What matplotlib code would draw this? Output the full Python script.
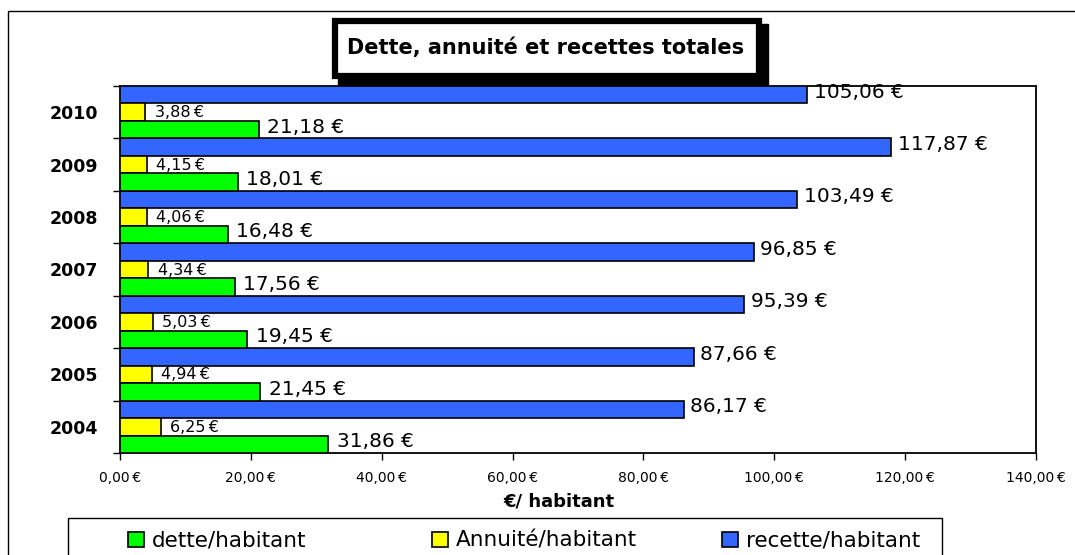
import matplotlib
matplotlib.use("Agg")
import matplotlib.pyplot as plt
from matplotlib.patches import Rectangle
import numpy as np

plt.rcParams['font.family'] = ['DejaVu Sans']

years = ["2004", "2005", "2006", "2007", "2008", "2009", "2010"]
recette = [86.17, 87.66, 95.39, 96.85, 103.49, 117.87, 105.06]
annuite = [6.25, 4.94, 5.03, 4.34, 4.06, 4.15, 3.88]
dette = [31.86, 21.45, 19.45, 17.56, 16.48, 18.01, 21.18]
xticks = [0, 20, 40, 60, 80, 100, 120, 140]
series_names = ["dette/habitant", "Annuité/habitant", "recette/habitant"]
c_det, c_ann, c_rec = '#00FF00', '#FFFF00', '#3366FF'

def eur(v, sep=" "):
    return ("%.2f" % v).replace(".", ",") + sep + "€"

W, H = 1075, 555
fig = plt.figure(figsize=(W / 100, H / 100), dpi=100)

def px(x, y):
    # pixel coords (from top-left) -> figure fraction
    return x / W, 1 - y / H

# outer chart frame (runs off the right and bottom edges)
fig.patches.append(Rectangle(px(8, 600), 1.2, (600 - 11) / H, transform=fig.transFigure,
                             fill=False, edgecolor='black', linewidth=1.0))

ax = fig.add_axes([120 / W, 1 - 453 / H, (1036 - 120) / W, (453 - 86) / H])
y = np.arange(len(years))
h = 1 / 3

ax.barh(y + h, recette, height=h, color=c_rec, edgecolor='black', linewidth=1.2, zorder=3)
ax.barh(y, annuite, height=h, color=c_ann, edgecolor='black', linewidth=1.2, zorder=3)
ax.barh(y - h, dette, height=h, color=c_det, edgecolor='black', linewidth=1.2, zorder=5)

for i in range(len(years)):
    ax.text(recette[i] + 1.0, y[i] + h + 0.05, eur(recette[i]), fontsize=14.5, va='center', zorder=4)
    ax.text(annuite[i] + 1.4, y[i] - 0.01, eur(annuite[i], "\u2009"), fontsize=11.5, va='center', zorder=4)
    ax.text(dette[i] + 1.3, y[i] - h + 0.05, eur(dette[i]), fontsize=14.5, va='center', zorder=4)

ax.set_xlim(0, 140)
ax.set_ylim(-0.5, len(years) - 0.5)
ax.set_xticks(xticks)
ax.set_xticklabels([eur(v, "\u2009") for v in xticks], fontsize=10)
ax.set_yticks(y)
ax.set_yticklabels(years, fontsize=12.5, fontweight='bold')
ax.set_yticks(np.arange(-0.5, len(years), 1), minor=True)
ax.tick_params(axis='y', which='major', length=0, pad=16)
ax.tick_params(axis='y', which='minor', length=5, width=1)
ax.tick_params(axis='x', length=5, width=1, pad=8)
for s in ax.spines.values():
    s.set_linewidth(1.3)
ax.set_xlabel("€/ habitant", fontsize=13, fontweight='bold', labelpad=6)
ax.xaxis.set_label_coords((559 - 120) / (1036 - 120), -(502 - 453) / (453 - 86))
ax.xaxis.label.set_va('center')

# title box with shadow
fig.patches.append(Rectangle(px(338, 85), (768 - 338) / W, (85 - 24) / H,
                             transform=fig.transFigure, facecolor='black', edgecolor='black', zorder=5))
fig.patches.append(Rectangle(px(335, 76), (759 - 335) / W, (76 - 21) / H,
                             transform=fig.transFigure, facecolor='white', edgecolor='black',
                             linewidth=4.5, zorder=6))
fig.text(*px(546, 48), "Dette, annuité et recettes totales", fontsize=15,
         fontweight='bold', ha='center', va='center', zorder=7)

# legend box
fig.patches.append(Rectangle(px(68, 600), (942 - 68) / W, (600 - 518) / H,
                             transform=fig.transFigure, fill=False, edgecolor='black', linewidth=1.0))
for name, col, xh in zip(series_names, [c_det, c_ann, c_rec], [128, 432, 722]):
    fig.patches.append(Rectangle(px(xh, 547), 16 / W, 15 / H, transform=fig.transFigure,
                                 facecolor=col, edgecolor='black', linewidth=1.2))
    fig.text(*px(xh + 24, 540), name, fontsize=15.5, ha='left', va='center')

fig.savefig("out.png", dpi=100)
